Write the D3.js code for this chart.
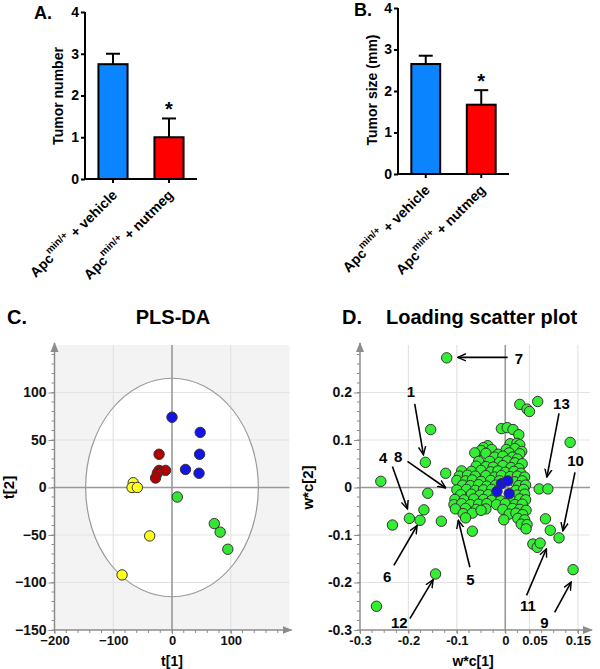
<!DOCTYPE html>
<html>
<head>
<meta charset="utf-8">
<script src="https://cdn.jsdelivr.net/npm/d3@7"></script>
<style>
  body { margin: 0; background: #fff; }
  svg { font-family: Arial, "Liberation Sans", sans-serif; }
</style>
</head>
<body>
<div id="chart"></div>
<script>
// ---- data ----
const groups = ["vehicle", "nutmeg"];
const barColors = ["#0a84ff", "#ff0000"];
const tumorNumber = [2.75, 1.0];
const tumorNumberErr = [0.25, 0.45];
const tumorSize = [2.65, 1.67];
const tumorSizeErr = [0.2, 0.35];
const barTicks = [0, 1, 2, 3, 4];

// PLS-DA scores t[1], t[2]
const plsBlue = [[0, 74], [48, 58], [47, 35], [23, 19], [46, 15]];
const plsRed = [[-22, 35], [-22, 18], [-11, 18], [-25, 15], [-28, 10]];
const plsYellow = [[-66, 5], [-68, 0], [-59, 0], [-38, -51], [-85, -92]];
const plsGreen = [[9, -10], [72, -38], [82, -47], [95, -65]];
const plsXTicks = [-200, -100, 0, 100];
const plsYTicks = [-150, -100, -50, 0, 50, 100];

// loadings w*c[1], w*c[2]
const loadOutliers = [
  [-0.121, 0.273], [-0.154, 0.122], [-0.165, 0.053], [-0.123, 0.030], [-0.257, 0.013],
  [-0.160, -0.012], [-0.168, -0.047], [-0.198, -0.065], [-0.176, -0.069], [-0.233, -0.079],
  [-0.132, -0.071], [-0.144, -0.182], [-0.266, -0.250], [-0.068, -0.092],
  [0.030, 0.175], [0.045, 0.165], [0.050, 0.160], [0.067, 0.181], [0.134, 0.095],
  [0.070, -0.003], [0.088, -0.003], [0.083, -0.066], [0.093, -0.090], [0.111, -0.106],
  [0.057, -0.119], [0.066, -0.126], [0.072, -0.117], [0.140, -0.173]
];
const loadCluster = [
  [-0.008, 0.124], [0.004, 0.126], [0.016, 0.122], [0.028, 0.111],
  [-0.036, 0.088], [-0.045, 0.084], [0.010, 0.092], [0.024, 0.093], [0.030, 0.090],
  [-0.028, 0.080], [-0.050, 0.078], [0.002, 0.080], [0.020, 0.082], [0.034, 0.076],
  [-0.063, 0.073], [-0.040, 0.072], [-0.015, 0.070], [0.008, 0.073], [0.030, 0.071],
  [-0.022, 0.064], [-0.005, 0.066], [0.015, 0.064], [0.025, 0.060],
  [-0.055, 0.055], [-0.032, 0.055], [-0.012, 0.053], [0.004, 0.056], [0.020, 0.052], [0.035, 0.050],
  [-0.060, 0.045], [-0.040, 0.044], [-0.025, 0.043], [-0.005, 0.046], [0.012, 0.042], [0.028, 0.040],
  [-0.090, 0.035], [-0.070, 0.034], [-0.050, 0.036], [-0.030, 0.033], [-0.015, 0.035], [0.000, 0.032], [0.018, 0.034], [0.032, 0.030],
  [-0.095, 0.024], [-0.078, 0.026], [-0.062, 0.024], [-0.040, 0.025], [-0.022, 0.022], [-0.008, 0.025], [0.010, 0.023], [0.025, 0.024], [0.040, 0.022],
  [-0.100, 0.015], [-0.082, 0.014], [-0.068, 0.016], [-0.050, 0.013], [-0.030, 0.015], [-0.012, 0.014], [0.020, 0.012], [0.035, 0.014],
  [-0.088, 0.005], [-0.072, 0.004], [-0.055, 0.006], [-0.038, 0.003], [-0.020, 0.005], [0.028, 0.004], [0.042, 0.005],
  [-0.100, -0.005], [-0.080, -0.004], [-0.062, -0.006], [-0.045, -0.005], [-0.028, -0.004], [0.022, -0.006], [0.038, -0.004],
  [-0.092, -0.015], [-0.070, -0.014], [-0.052, -0.016], [-0.035, -0.015], [-0.020, -0.020], [0.025, -0.016], [0.040, -0.014],
  [-0.104, -0.025], [-0.085, -0.026], [-0.065, -0.024], [-0.045, -0.025], [-0.028, -0.027], [-0.010, -0.028], [0.012, -0.026], [0.030, -0.024], [0.042, -0.026],
  [-0.106, -0.036], [-0.090, -0.034], [-0.072, -0.036], [-0.055, -0.035], [-0.038, -0.034], [-0.018, -0.036], [0.000, -0.034], [0.020, -0.036], [0.035, -0.035],
  [-0.103, -0.045], [-0.082, -0.044], [-0.060, -0.046], [-0.040, -0.045], [-0.005, -0.046], [0.015, -0.044], [0.030, -0.046], [0.043, -0.048],
  [-0.087, -0.055], [-0.068, -0.054], [-0.050, -0.048], [0.008, -0.056], [0.022, -0.054], [0.036, -0.057],
  [-0.082, -0.064], [-0.003, -0.068], [0.026, -0.065], [0.040, -0.068],
  [0.033, -0.077], [0.045, -0.078], [0.043, -0.087]
];
const loadBlue = [[-0.008, 0.008], [0.005, 0.014], [-0.017, -0.008], [0.008, -0.013]];
const loadXTicks = [-0.3, -0.2, -0.1, 0, 0.05, 0.15];
const loadYTicks = [-0.3, -0.2, -0.1, 0, 0.1, 0.2];
const loadLabels = [
  { n: "7", lx: 0.028, ly: 0.272, x1: 0.005, y1: 0.274, x2: -0.098, y2: 0.274 },
  { n: "1", lx: -0.195, ly: 0.201, x1: -0.187, y1: 0.176, x2: -0.169, y2: 0.069 },
  { n: "4", lx: -0.252, ly: 0.063, x1: -0.233, y1: 0.044, x2: -0.202, y2: -0.045 },
  { n: "8", lx: -0.221, ly: 0.065, x1: -0.202, y1: 0.055, x2: -0.123, y2: -0.001 },
  { n: "6", lx: -0.244, ly: -0.187, x1: -0.230, y1: -0.164, x2: -0.182, y2: -0.080 },
  { n: "12", lx: -0.219, ly: -0.284, x1: -0.197, y1: -0.276, x2: -0.149, y2: -0.194 },
  { n: "5", lx: -0.072, ly: -0.194, x1: -0.073, y1: -0.168, x2: -0.097, y2: -0.069 },
  { n: "13", lx: 0.116, ly: 0.176, x1: 0.111, y1: 0.156, x2: 0.086, y2: 0.022 },
  { n: "10", lx: 0.145, ly: 0.057, x1: 0.144, y1: 0.032, x2: 0.119, y2: -0.091 },
  { n: "11", lx: 0.047, ly: -0.248, x1: 0.044, y1: -0.227, x2: 0.085, y2: -0.129 },
  { n: "9", lx: 0.081, ly: -0.285, x1: 0.102, y1: -0.263, x2: 0.136, y2: -0.199 }
];

// ---- svg ----
const svg = d3.select("#chart").append("svg")
  .attr("width", 600)
  .attr("height", 669);

const defs = svg.append("defs");
defs.append("marker")
  .attr("id", "grayArrow")
  .attr("viewBox", "0 0 10 10")
  .attr("refX", 9).attr("refY", 5)
  .attr("markerWidth", 10).attr("markerHeight", 10)
  .attr("markerUnits", "userSpaceOnUse")
  .attr("orient", "auto")
  .append("path").attr("d", "M0,1 L10,5 L0,9 Z").attr("fill", "#8c8c8c");
defs.append("marker")
  .attr("id", "blackArrow")
  .attr("viewBox", "0 0 10 10")
  .attr("refX", 9).attr("refY", 5)
  .attr("markerWidth", 9).attr("markerHeight", 9)
  .attr("markerUnits", "userSpaceOnUse")
  .attr("orient", "auto")
  .append("path").attr("d", "M0,1 L9,5 L0,9").attr("fill", "none")
  .attr("stroke", "#000").attr("stroke-width", 1.6);

const panelLabel = (x, y, t, size) => svg.append("text")
  .attr("x", x).attr("y", y)
  .attr("font-size", size).attr("font-weight", "bold")
  .text(t);

// ---- bar panels ----
const drawBars = (opt) => {
  const g = svg.append("g");
  const y = d3.scaleLinear().domain([0, 4]).range([opt.y0, opt.y4]);
  const x = d3.scaleBand().domain(groups).range([opt.left, opt.right])
    .paddingInner(0.48).paddingOuter(0.24);

  g.selectAll("rect.bar").data(groups).join("rect")
    .attr("x", d => x(d))
    .attr("y", (d, i) => y(opt.values[i]))
    .attr("width", x.bandwidth())
    .attr("height", (d, i) => y(0) - y(opt.values[i]))
    .attr("fill", (d, i) => barColors[i])
    .attr("stroke", "#000").attr("stroke-width", 2);

  // error bars (upper only)
  groups.forEach((d, i) => {
    const cx = x(d) + x.bandwidth() / 2;
    const top = y(opt.values[i] + opt.errs[i]);
    g.append("line").attr("x1", cx).attr("x2", cx)
      .attr("y1", y(opt.values[i])).attr("y2", top)
      .attr("stroke", "#000").attr("stroke-width", 2);
    g.append("line").attr("x1", cx - 7).attr("x2", cx + 7)
      .attr("y1", top).attr("y2", top)
      .attr("stroke", "#000").attr("stroke-width", 2);
  });

  const cxN = x(groups[1]) + x.bandwidth() / 2;
  g.append("text").attr("x", cxN).attr("y", y(opt.values[1] + opt.errs[1]) - 2)
    .attr("text-anchor", "middle").attr("font-size", 20).attr("font-weight", "bold")
    .text("*");

  const ay = g.append("g").attr("transform", `translate(${opt.left},0)`)
    .call(d3.axisLeft(y).tickValues(barTicks).tickFormat(d3.format("d")).tickSize(4).tickPadding(2));
  ay.select(".domain").attr("stroke", "#000").attr("stroke-width", 2)
    .attr("d", `M0,${opt.y0}V${opt.y4}`);
  ay.selectAll(".tick line").attr("stroke-width", 2);
  ay.selectAll(".tick text").attr("font-size", 14).attr("font-weight", "bold")
    .attr("font-family", "Arial, 'Liberation Sans', sans-serif").attr("fill", "#000");

  const ax = g.append("g").attr("transform", `translate(0,${opt.y0})`)
    .call(d3.axisBottom(x).tickSize(4).tickFormat(""));
  ax.select(".domain").attr("stroke-width", 2).attr("d", `M${opt.left},0H${opt.right}`);
  ax.selectAll(".tick line").attr("stroke-width", 2);

  groups.forEach((d, i) => {
    const cx = x(d) + x.bandwidth() / 2 + 5;
    const t = g.append("text")
      .attr("transform", `translate(${cx},${opt.y0 + 17}) rotate(-45)`)
      .attr("text-anchor", "end")
      .attr("font-size", 14).attr("font-weight", "bold");
    t.append("tspan").text("Apc");
    t.append("tspan").attr("font-size", 10).attr("dy", -7).text("min/+");
    t.append("tspan").attr("dy", 7).text(i === 0 ? " + vehicle" : "  + nutmeg");
  });

  g.append("text")
    .attr("transform", `translate(${opt.labelX},${opt.labelY}) rotate(-90)`)
    .attr("text-anchor", "middle")
    .attr("font-size", 14).attr("font-weight", "bold")
    .text(opt.label);
};

drawBars({ left: 85, right: 197, y0: 179, y4: 12, values: tumorNumber, errs: tumorNumberErr,
  label: "Tumor number", labelX: 63, labelY: 96 });
drawBars({ left: 398, right: 509, y0: 174, y4: 8, values: tumorSize, errs: tumorSizeErr,
  label: "Tumor size (mm)", labelX: 377, labelY: 90 });
panelLabel(34, 19, "A.", 18);
panelLabel(354, 16, "B.", 18);

// ---- scatter panels ----
const drawScatterFrame = (opt) => {
  const g = svg.append("g");
  const x = opt.x, y = opt.y;
  const [x0, x1] = x.domain(), [y0, y1] = y.domain();

  g.append("rect").attr("x", x(x0)).attr("y", y(y1))
    .attr("width", x(x1) - x(x0)).attr("height", y(y0) - y(y1))
    .attr("fill", opt.bg);
  if (opt.ellipse) {
    g.append("ellipse").attr("cx", x(0)).attr("cy", y(0))
      .attr("rx", x(opt.ellipse[0]) - x(0)).attr("ry", y(0) - y(opt.ellipse[1]))
      .attr("fill", "#fff");
  }
  // grid
  g.selectAll("line.gx").data(opt.gridX).join("line")
    .attr("x1", d => x(d)).attr("x2", d => x(d))
    .attr("y1", y(y0)).attr("y2", y(y1))
    .attr("stroke", "#e3e3e3").attr("stroke-width", 1.2);
  g.selectAll("line.gy").data(opt.gridY).join("line")
    .attr("y1", d => y(d)).attr("y2", d => y(d))
    .attr("x1", x(x0)).attr("x2", x(x1))
    .attr("stroke", "#e3e3e3").attr("stroke-width", 1.2);
  if (opt.ellipse) {
    g.append("ellipse").attr("cx", x(0)).attr("cy", y(0))
      .attr("rx", x(opt.ellipse[0]) - x(0)).attr("ry", y(0) - y(opt.ellipse[1]))
      .attr("fill", "none").attr("stroke", "#9a9a9a").attr("stroke-width", 1.2);
  }
  // zero lines
  g.append("line").attr("x1", x(0)).attr("x2", x(0)).attr("y1", y(y0)).attr("y2", y(y1))
    .attr("stroke", "#999").attr("stroke-width", 1.6);
  g.append("line").attr("y1", y(0)).attr("y2", y(0)).attr("x1", x(x0)).attr("x2", x(x1))
    .attr("stroke", "#999").attr("stroke-width", 1.6);

  // axes with arrows
  g.append("line").attr("x1", x(x0)).attr("x2", x(x0)).attr("y1", y(y0)).attr("y2", y(y1) - 2)
    .attr("stroke", "#8c8c8c").attr("stroke-width", 1.5).attr("marker-end", "url(#grayArrow)");
  g.append("line").attr("x1", x(x0)).attr("x2", x(x1) + 2).attr("y1", y(y0)).attr("y2", y(y0))
    .attr("stroke", "#8c8c8c").attr("stroke-width", 1.5).attr("marker-end", "url(#grayArrow)");

  // minor ticks
  g.selectAll("line.my").data(opt.minorY).join("line")
    .attr("x1", x(x0) - 3).attr("x2", x(x0))
    .attr("y1", d => y(d)).attr("y2", d => y(d))
    .attr("stroke", "#8c8c8c");
  g.selectAll("line.mx").data(opt.minorX).join("line")
    .attr("y1", y(y0)).attr("y2", y(y0) + 3)
    .attr("x1", d => x(d)).attr("x2", d => x(d))
    .attr("stroke", "#8c8c8c");

  const ay = g.append("g").attr("transform", `translate(${x(x0)},0)`)
    .call(d3.axisLeft(y).tickValues(opt.yTicks).tickFormat(opt.fmt).tickSize(6).tickPadding(2));
  ay.select(".domain").remove();
  ay.selectAll(".tick line").attr("stroke", "#8c8c8c");
  ay.selectAll(".tick text").attr("font-size", 14).attr("font-weight", "bold")
    .attr("font-family", "Arial, 'Liberation Sans', sans-serif").attr("fill", "#111");

  const ax = g.append("g").attr("transform", `translate(0,${y(y0)})`)
    .call(d3.axisBottom(x).tickValues(opt.xTicks).tickFormat(opt.fmt).tickSize(4).tickPadding(2));
  ax.select(".domain").remove();
  ax.selectAll(".tick line").attr("stroke", "#8c8c8c");
  ax.selectAll(".tick text").attr("font-size", 13).attr("font-weight", "bold")
    .attr("font-family", "Arial, 'Liberation Sans', sans-serif").attr("fill", "#111")
    .attr("dx", d => opt.xTickShift && d === opt.xTickShift[0] ? opt.xTickShift[1] : 0);

  g.append("text")
    .attr("transform", `translate(${opt.yLabelX},${y(0)}) rotate(-90)`)
    .attr("text-anchor", "middle").attr("font-size", 15).attr("font-weight", "bold")
    .text(opt.yLabel);
  g.append("text").attr("x", opt.xLabelX).attr("y", 666)
    .attr("text-anchor", "middle").attr("font-size", 14).attr("font-weight", "bold")
    .text(opt.xLabel);
  return g;
};

const dot = (g, data, x, y, fill, r) => g.append("g").selectAll("circle").data(data).join("circle")
  .attr("cx", d => x(d[0])).attr("cy", d => y(d[1])).attr("r", r)
  .attr("fill", fill).attr("stroke", "#333").attr("stroke-width", 1);

// C. PLS-DA
const xC = d3.scaleLinear().domain([-200, 200]).range([54.5, 289.5]);
const yC = d3.scaleLinear().domain([-150, 150]).range([630, 345]);
const gC = drawScatterFrame({
  x: xC, y: yC, bg: "#f3f3f3", ellipse: [147, 115],
  gridX: [-100, 100], gridY: [-100, -50, 50, 100],
  minorY: d3.range(-150, 141, 10), minorX: d3.range(-200, 181, 20),
  yTicks: plsYTicks, xTicks: plsXTicks, fmt: d3.format("d"),
  yLabel: "t[2]", xLabel: "t[1]", yLabelX: 14, xLabelX: xC(0)
});
dot(gC, plsYellow, xC, yC, "#ffff1e", 5.2);
dot(gC, plsRed, xC, yC, "#b40000", 5.2);
dot(gC, plsBlue, xC, yC, "#1414e6", 5.2);
dot(gC, plsGreen, xC, yC, "#33e633", 5.2);
panelLabel(7, 324, "C.", 20);
svg.append("text").attr("x", 173).attr("y", 324).attr("text-anchor", "middle")
  .attr("font-size", 20).attr("font-weight", "bold").text("PLS-DA");

// D. Loading scatter plot
const xD = d3.scaleLinear().domain([-0.3, 0.175]).range([360, 590]);
const yD = d3.scaleLinear().domain([-0.3, 0.3]).range([630, 345]);
const gD = drawScatterFrame({
  x: xD, y: yD, bg: "#fff", ellipse: null,
  gridX: [-0.2, -0.1, 0.05, 0.15], gridY: [-0.2, -0.1, 0.1, 0.2],
  minorY: d3.range(-0.3, 0.29, 0.02), minorX: d3.range(-0.3, 0.16, 0.025),
  yTicks: loadYTicks, xTicks: loadXTicks, fmt: d => d === 0 ? "0" : String(d),
  xTickShift: [0.05, 5],
  yLabel: "w*c[2]", xLabel: "w*c[1]", yLabelX: 313, xLabelX: 473
});
dot(gD, loadOutliers, xD, yD, "#33ee33", 5.2);
dot(gD, loadCluster, xD, yD, "#33ee33", 5.2);
dot(gD, loadBlue, xD, yD, "#1414e6", 5.2);

const ann = gD.append("g");
ann.selectAll("line").data(loadLabels).join("line")
  .attr("x1", d => xD(d.x1)).attr("y1", d => yD(d.y1))
  .attr("x2", d => xD(d.x2)).attr("y2", d => yD(d.y2))
  .attr("stroke", "#000").attr("stroke-width", 1.6)
  .attr("marker-end", "url(#blackArrow)");
ann.selectAll("text").data(loadLabels).join("text")
  .attr("x", d => xD(d.lx)).attr("y", d => yD(d.ly))
  .attr("dy", "0.35em").attr("text-anchor", "middle")
  .attr("font-size", 15).attr("font-weight", "bold")
  .text(d => d.n);

panelLabel(342, 324, "D.", 20);
svg.append("text").attr("x", 386).attr("y", 324)
  .attr("font-size", 20).attr("font-weight", "bold").text("Loading scatter plot");
</script>
</body>
</html>
